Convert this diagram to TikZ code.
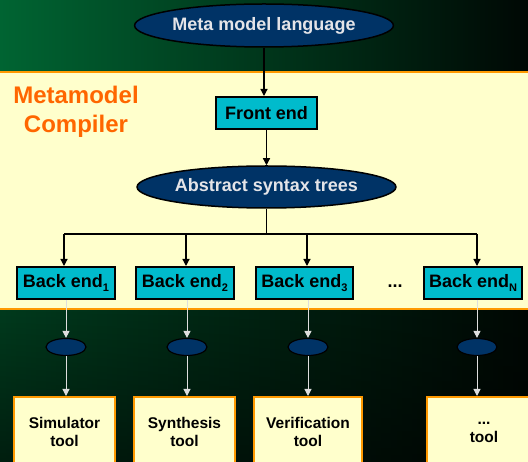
\documentclass[tikz,border=0pt]{standalone}
\usepackage{fontspec}
\setmainfont{Liberation Sans}
\usetikzlibrary{shapes.geometric,arrows.meta,fadings}

\definecolor{topleft}{RGB}{0,100,50}
\definecolor{topmid}{RGB}{0,68,34}
\definecolor{topright}{RGB}{0,8,4}
\definecolor{lowleft}{RGB}{0,60,30}
\definecolor{lowmid}{RGB}{0,54,27}
\definecolor{lowright}{RGB}{0,8,4}
\definecolor{paleyel}{RGB}{255,255,204}
\definecolor{bandorange}{RGB}{255,153,0}
\definecolor{boxcyan}{RGB}{0,187,204}
\definecolor{navyfill}{RGB}{0,51,102}
\definecolor{titleorange}{RGB}{255,102,0}
\definecolor{paletext}{RGB}{228,228,232}
\definecolor{palearrow}{RGB}{222,222,222}

\tikzfading[name=darkdown, top color=transparent!100, bottom color=transparent!50]

\newcommand{\subidx}[1]{\raisebox{-3.5pt}{\fontsize{11}{11}\selectfont #1}}

\tikzset{
  bigfont/.style={font=\fontsize{18}{21}\selectfont\bfseries},
  navyell/.style={ellipse, draw=black, line width=1.5pt, fill=navyfill,
    text=paletext, inner sep=0pt, bigfont},
  dotell/.style={ellipse, draw=black, line width=1.2pt, fill=navyfill,
    minimum width=40, minimum height=17, inner sep=0pt},
  cyanbox/.style={rectangle, draw=black, line width=2pt, fill=boxcyan,
    minimum height=32, inner sep=0pt, bigfont},
  toolbox/.style={rectangle, draw=bandorange, line width=2.5pt, fill=paleyel,
    anchor=north, minimum height=70, align=center, inner sep=0pt,
    font=\fontsize{15.5}{18}\selectfont\bfseries},
  darkarrow/.style={line width=1.2pt, draw=black,
    -{Triangle[width=7pt,length=7pt]}},
  palearr/.style={line width=1pt, draw=palearrow,
    -{Triangle[width=7pt,length=7pt]}},
}

\begin{document}
\begin{tikzpicture}[x=1pt,y=-1pt]
\useasboundingbox (0,0) rectangle (528,462);

% background gradient, upper and lower parts
\shade[left color=topleft, middle color=topmid, right color=topright]
  (0,0) rectangle (528,80);
\shade[left color=lowleft, middle color=lowmid, right color=lowright]
  (0,300) rectangle (528,462);
\fill[black, path fading=darkdown] (0,300) rectangle (528,462);

% compiler band
\draw[bandorange, line width=2pt, fill=paleyel] (-5,72) rectangle (533,309);

\node[text=titleorange, align=center,
      font=\fontsize{24}{29}\selectfont\bfseries] (title) at (76,112)
  {Metamodel\\Compiler};

% front part
\node[navyell, minimum width=225, minimum height=43] (meta) at (264,25.5)
  {Meta model language};
\node[cyanbox, minimum width=101] (front) at (266.5,113) {Front end};
\node[navyell, minimum width=229, minimum height=42] (ast) at (266.5,187)
  {Abstract syntax trees};

\draw[darkarrow] (meta.south) -- (meta.south |- front.north);
\draw[darkarrow] (front.south) -- (ast.north);

% back ends
\node[cyanbox, minimum width=98] (be1) at (66,283)  {Back end\subidx{1}};
\node[cyanbox, minimum width=98] (be2) at (185,283) {Back end\subidx{2}};
\node[cyanbox, minimum width=97] (be3) at (304.5,283) {Back end\subidx{3}};
\node[cyanbox, minimum width=98] (beN) at (473,283) {Back end\subidx{N}};
\node[bigfont] (dots) at (395,286) {...};

% distribution bus
\coordinate (j)  at (266.5,234);
\coordinate (b1) at (64,234);
\coordinate (b2) at (186,234);
\coordinate (b3) at (307,234);
\coordinate (bN) at (477,234);
\draw[line width=1.2pt] (ast.south) -- (j);
\draw[line width=1.2pt] (b1) -- (bN);
\draw[darkarrow] (b1) -- (be1.north -| b1);
\draw[darkarrow] (b2) -- (be2.north -| b2);
\draw[darkarrow] (b3) -- (be3.north -| b3);
\draw[darkarrow] (bN) -- (beN.north -| bN);

% generated artefacts
\node[dotell] (d1) at (66,347) {};
\node[dotell] (d2) at (187,347) {};
\node[dotell] (d3) at (308,347) {};
\node[dotell] (dN) at (477,347) {};

\draw[palearr] (d1.north |- be1.south) -- (d1.north);
\draw[palearr] (d2.north |- be2.south) -- (d2.north);
\draw[palearr] (d3.north |- be3.south) -- (d3.north);
\draw[palearr] (dN.north |- beN.south) -- (dN.north);

% tools
\node[toolbox, minimum width=101] (t1) at (64.5,396) {Simulator\\tool};
\node[toolbox, minimum width=101] (t2) at (184.5,396) {Synthesis\\tool};
\node[toolbox, minimum width=108] (t3) at (308,396) {Verification\\tool};
\node[toolbox, minimum width=114] (tN) at (484,396) {...\\tool};

\draw[palearr] (d1.south) -- (t1.north -| d1);
\draw[palearr] (d2.south) -- (t2.north -| d2);
\draw[palearr] (d3.south) -- (t3.north -| d3);
\draw[palearr] (dN.south) -- (tN.north -| dN);
\end{tikzpicture}
\end{document}
